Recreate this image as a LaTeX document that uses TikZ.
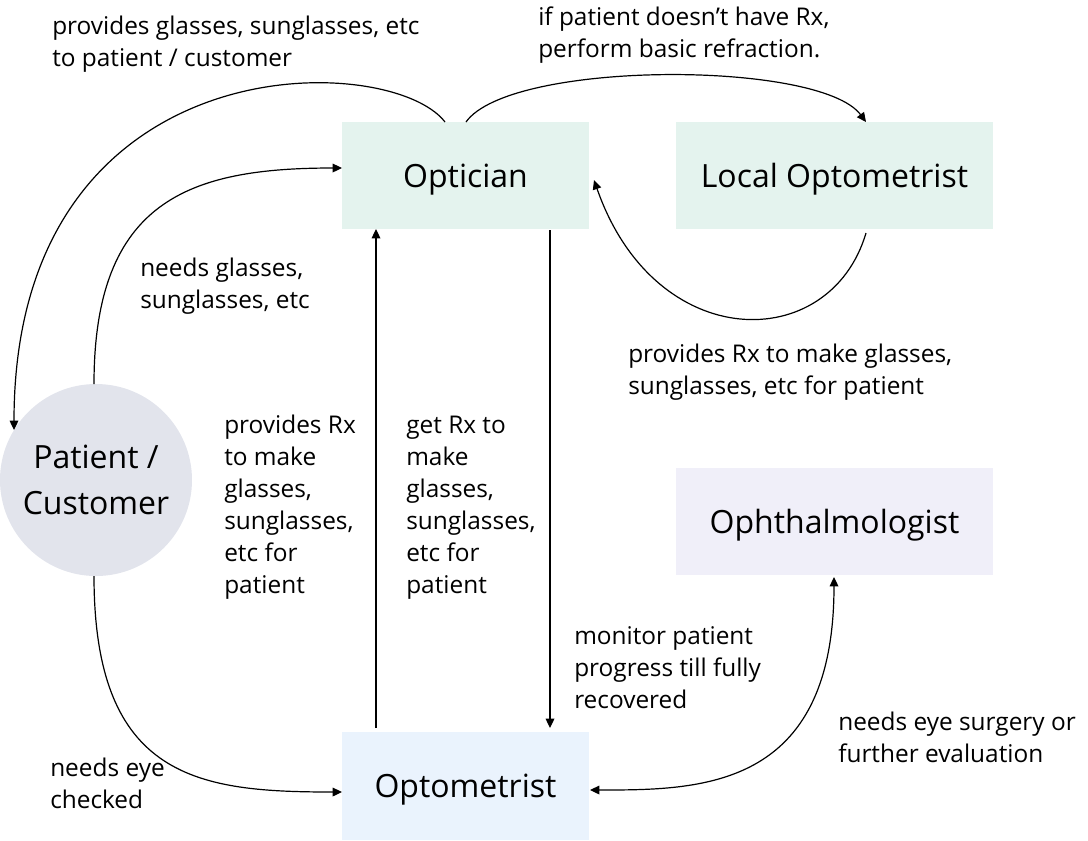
\documentclass[tikz,border=0pt]{standalone}
\usepackage{fontspec}
\setmainfont{Open Sans}
\usetikzlibrary{arrows.meta}
\definecolor{mint}{HTML}{E4F3EE}
\definecolor{lblue}{HTML}{EAF3FD}
\definecolor{lav}{HTML}{F0EFF9}
\definecolor{pgray}{HTML}{E2E4EC}
\tikzset{
  box/.style={rectangle, inner sep=0pt, text depth=0pt, font=\fontsize{24}{30}\selectfont},
  lbl/.style={anchor=north west, align=left, inner sep=0pt, font=\fontsize{18.3}{24}\selectfont},
  conn/.style={line width=0.9pt, -{Triangle[length=7pt,width=6.5pt]}},
}
\begin{document}
\begin{tikzpicture}[x=0.75pt,y=-0.75pt]
\useasboundingbox (0,0) rectangle (1088,840);
% nodes
\node[box, fill=mint, minimum width=247*0.75pt, minimum height=107*0.75pt] (opt) at (465.5,175.5) {Optician};
\node[box, fill=mint, minimum width=317*0.75pt, minimum height=107*0.75pt] (loc) at (834.5,175.5) {Local Optometrist};
\node[box, fill=lav, minimum width=317*0.75pt, minimum height=107*0.75pt] (oph) at (834.5,521.5) {Ophthalmologist};
\node[box, fill=lblue, minimum width=247*0.75pt, minimum height=108*0.75pt] (om) at (465.5,786) {Optometrist};
\node[circle, fill=pgray, minimum size=192*0.75pt, inner sep=0pt, align=center, font=\fontsize{24}{35}\selectfont] (pat) at (96,480) {Patient /\\Customer};
% connector coordinates
\coordinate (a1) at (445,122);
\coordinate (a2) at (14,430);
\coordinate (b1) at (94,384);
\coordinate (b2) at (342,168);
\coordinate (c1) at (466,122);
\coordinate (c2) at (866,122);
\coordinate (d1) at (866,233);
\coordinate (d2) at (594,180);
\coordinate (e1) at (550,230);
\coordinate (e2) at (550,728);
\coordinate (f1) at (376,728);
\coordinate (f2) at (376,229);
\coordinate (g1) at (94,576);
\coordinate (g2) at (342,792);
\coordinate (h1) at (834,577);
\coordinate (h2) at (590,790);
% connectors
\draw[conn] (a1) .. controls (390,50) and (14,40) .. (a2);
\draw[conn] (b1) .. controls (94,200) and (190,168) .. (b2);
\draw[conn] (c1) .. controls (510,60) and (820,60) .. (c2);
\draw[conn] (d1) .. controls (830,355) and (655,355) .. (d2);
\draw[conn] (e1) -- (e2);
\draw[conn] (f1) -- (f2);
\draw[conn] (g1) .. controls (94,780) and (200,792) .. (g2);
\draw[conn, {Triangle[length=7pt,width=6.5pt]}-{Triangle[length=7pt,width=6.5pt]}] (h1) .. controls (834,790) and (700,790) .. (h2);
% labels
\node[lbl] (l1) at (52,16) {provides glasses, sunglasses, etc\\to patient / customer};
\node[lbl] (l2) at (538,7) {if patient doesn’t have Rx,\\perform basic refraction.};
\node[lbl] (l3) at (140,258) {needs glasses,\\sunglasses, etc};
\node[lbl] (l4) at (628,344) {provides Rx to make glasses,\\sunglasses, etc for patient};
\node[lbl] (l5) at (224,415) {provides Rx\\to make\\glasses,\\sunglasses,\\etc for\\patient};
\node[lbl] (l6) at (406,416) {get Rx to\\make\\glasses,\\sunglasses,\\etc for\\patient};
\node[lbl] (l7) at (574,626) {monitor patient\\progress till fully\\recovered};
\node[lbl] (l8) at (50,758) {needs eye\\checked};
\node[lbl] (l9) at (838,712) {needs eye surgery or\\further evaluation};
\end{tikzpicture}
\end{document}
